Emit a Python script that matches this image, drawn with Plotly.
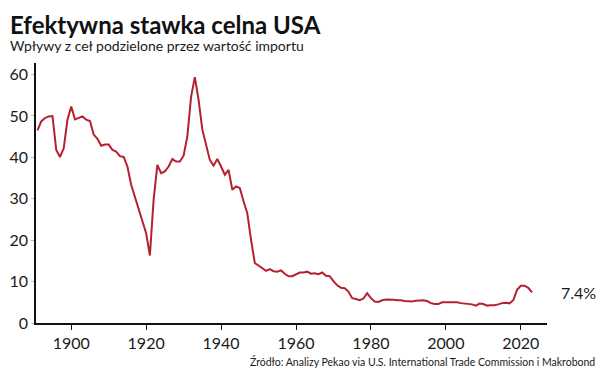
import plotly.graph_objects as go

years = list(range(1891, 2024))
rates = [
    46.5, 48.7, 49.5, 49.9, 50.0, 41.8, 40.1, 42.2, 49.1, 52.3,  # 1891-1900
    49.2, 49.5, 49.9, 49.1, 48.8, 45.5, 44.5, 42.8, 43.1, 43.1,  # 1901-1910
    41.8, 41.4, 40.3, 40.1, 37.8, 33.4, 30.6, 27.4, 24.4, 21.7,  # 1911-1920
    16.3, 29.8, 38.2, 36.2, 36.6, 37.8, 39.6, 39.0, 39.0, 40.4,  # 1921-1930
    45.1, 54.7, 59.4, 53.9, 46.7, 43.0, 39.4, 38.0, 39.6, 37.8,  # 1931-1940
    35.8, 37.0, 32.2, 33.0, 32.6, 29.4, 26.5, 20.1, 14.5, 13.9,  # 1941-1950
    13.3, 12.6, 13.0, 12.5, 12.4, 12.7, 11.9, 11.3, 11.3, 11.7,  # 1951-1960
    12.2, 12.2, 12.4, 11.9, 12.0, 11.8, 12.2, 11.4, 11.3, 10.1,  # 1961-1970
    9.1, 8.5, 8.4, 7.6, 6.0, 5.8, 5.5, 5.9, 7.2, 6.0,            # 1971-1980
    5.2, 5.1, 5.5, 5.7, 5.7, 5.6, 5.5, 5.5, 5.3, 5.3,            # 1981-1990
    5.2, 5.4, 5.4, 5.5, 5.3, 4.8, 4.6, 4.6, 5.0, 5.0,            # 1991-2000
    4.9, 5.0, 5.0, 4.8, 4.75, 4.6, 4.5, 4.2, 4.7, 4.6,           # 2001-2010
    4.2, 4.3, 4.3, 4.5, 4.8, 4.9, 4.75, 5.5, 8.0, 9.0,           # 2011-2020
    9.0, 8.5, 7.4,                                               # 2021-2023
]

title = "Efektywna stawka celna USA"
subtitle = "Wpływy z ceł podzielone przez wartość importu"
source = "Źródło: Analizy Pekao via U.S. International Trade Commission i Makrobond"
last_label = "7.4%"

x_ticks = [1900, 1920, 1940, 1960, 1980, 2000, 2020]
y_ticks = [0, 10, 20, 30, 40, 50, 60]

FONT = "Lato"
TXT = "#1a1a1a"
RED = "#b5212f"

# page body has an 8px margin, so the figure is sized to the remaining window
W, H = 596, 369
L, R, T, B = 28, 57, 55, 54
PW, PH = W - L - R, H - T - B

def px(x):
    return (x - L) / PW

def py(y):
    return 1 - (y - T) / PH

header = (
    "<span style='font-size:24px;color:#111'><b>" + title + "</b></span><br>"
    "<span style='font-size:14px'>" + subtitle + "</span>"
)

fig = go.Figure()
fig.add_trace(go.Scatter(
    x=years, y=rates, mode="lines",
    line=dict(color=RED, width=2),
    hoverinfo="x+y", showlegend=False,
))

fig.update_layout(
    width=W, height=H,
    margin=dict(l=L, r=R, t=T, b=B),
    paper_bgcolor="white", plot_bgcolor="white",
    font=dict(family=FONT, color=TXT),
    xaxis=dict(
        range=[1890.6, 2027], tickvals=x_ticks, automargin=False,
        showgrid=False, zeroline=False,
        showline=True, linecolor="#111", linewidth=1.5,
        ticks="outside", ticklen=5, tickcolor="#111", tickwidth=1,
        tickfont=dict(size=16, family=FONT, color=TXT),
    ),
    yaxis=dict(
        range=[0, 62.8], tickvals=y_ticks, automargin=False,
        showgrid=False, zeroline=False,
        showline=True, linecolor="#111", linewidth=1.5,
        ticks="outside", ticklen=3, tickcolor="#bbb", tickwidth=1,
        tickfont=dict(size=16, family=FONT, color=TXT),
    ),
    annotations=[
        dict(text=header, xref="paper", yref="paper", align="left",
             x=px(0.5), y=py(0.5), xanchor="left", yanchor="top", showarrow=False,
             borderpad=0, font=dict(size=12.8, family=FONT, color=TXT)),
        dict(text=source, xref="paper", yref="paper",
             x=px(589), y=py(353), xanchor="right", yanchor="middle", showarrow=False,
             font=dict(size=10.5, family=FONT, color=TXT)),
        dict(text=last_label, xref="paper", yref="y",
             x=px(551), y=rates[-1], xanchor="left", yanchor="middle", showarrow=False,
             font=dict(size=16, family=FONT, color=TXT)),
    ],
)

fig.write_html("out.html")
